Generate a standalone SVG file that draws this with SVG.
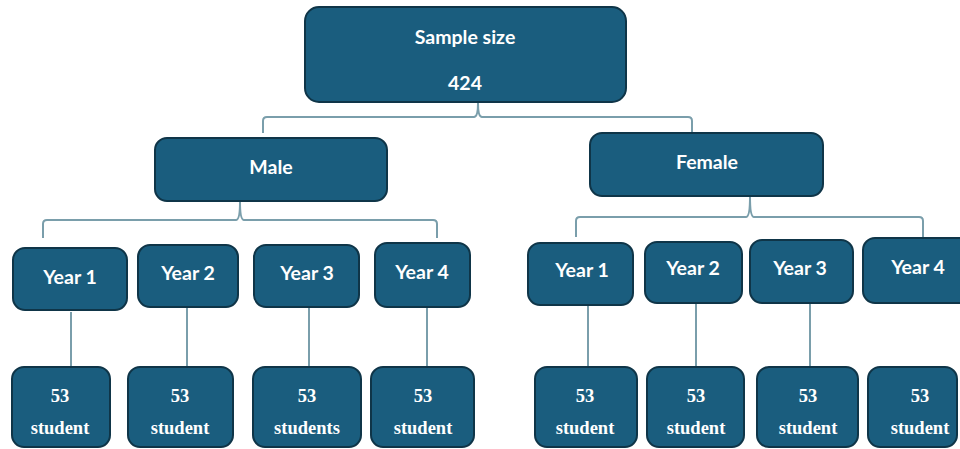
<svg xmlns="http://www.w3.org/2000/svg" width="960" height="449" viewBox="0 0 960 449">
<style>
.box{fill:#1a5d7e;stroke:#0f3548;stroke-width:2}
.t{font-family:Lato,"Open Sans","Liberation Sans",sans-serif;font-weight:bold;font-size:19.5px;fill:#fff;text-anchor:middle}
.s{font-family:"Liberation Serif","Times New Roman",serif;font-weight:bold;font-size:18.5px;fill:#fff;text-anchor:middle}
.c{fill:none;stroke:#7a9eab;stroke-width:2}
</style>
<rect width="960" height="449" fill="#fff"/>
<g id="connectors">
<path class="c" d="M263,133 V121 Q263,117 267,117 H474 Q478,117 478,103 Q478,117 482,117 H688 Q692,117 692,121 V133"/>
<path class="c" d="M43,238 V224 Q43,220 47,220 H236 Q240,220 240,202 Q240,220 244,220 H433 Q437,220 437,224 V238"/>
<path class="c" d="M576,237 V221 Q576,217 580,217 H746 Q750,217 750,197 Q750,217 754,217 H919 Q923,217 923,221 V237"/>
<path class="c" d="M71,312 V366 M187,308 V366 M309,308 V366 M427,308 V366 M588,306 V366 M696,304 V366 M810,304 V366"/>
</g>
<g id="root"><rect class="box" x="305" y="7" width="321" height="95" rx="14"/><text class="t" x="465" y="44">Sample size</text><text class="t" x="465" y="90">424</text></g>
<g id="male"><rect class="box" x="155" y="138" width="232" height="63" rx="12"/><text class="t" x="271" y="174">Male</text></g>
<g id="female"><rect class="box" x="590" y="133" width="233" height="63" rx="12"/><text class="t" x="707" y="169">Female</text></g>
<g id="m-y1"><rect class="box" x="13" y="248" width="114" height="62" rx="12"/><text class="t" x="70" y="284">Year 1</text></g>
<g id="m-y2"><rect class="box" x="138" y="245" width="100" height="62" rx="12"/><text class="t" x="188" y="280">Year 2</text></g>
<g id="m-y3"><rect class="box" x="254" y="245" width="105" height="62" rx="12"/><text class="t" x="307" y="280">Year 3</text></g>
<g id="m-y4"><rect class="box" x="375" y="243" width="95" height="64" rx="12"/><text class="t" x="422" y="279">Year 4</text></g>
<g id="f-y1"><rect class="box" x="528" y="243" width="105" height="62" rx="12"/><text class="t" x="582" y="277">Year 1</text></g>
<g id="f-y2"><rect class="box" x="645" y="242" width="97" height="61" rx="12"/><text class="t" x="693" y="275">Year 2</text></g>
<g id="f-y3"><rect class="box" x="750" y="240" width="103" height="63" rx="12"/><text class="t" x="800" y="275">Year 3</text></g>
<g id="f-y4"><rect class="box" x="863" y="238" width="110" height="65" rx="12"/><text class="t" x="918" y="274">Year 4</text></g>
<g id="m-s1"><rect class="box" x="12" y="367" width="98" height="80" rx="12"/><text class="s" x="60" y="402">53</text><text class="s" x="60" y="434">student</text></g>
<g id="m-s2"><rect class="box" x="128" y="367" width="105" height="80" rx="12"/><text class="s" x="180" y="402">53</text><text class="s" x="180" y="434">student</text></g>
<g id="m-s3"><rect class="box" x="253" y="367" width="108" height="80" rx="12"/><text class="s" x="307" y="402">53</text><text class="s" x="307" y="434">students</text></g>
<g id="m-s4"><rect class="box" x="371" y="367" width="103" height="80" rx="12"/><text class="s" x="423" y="402">53</text><text class="s" x="423" y="434">student</text></g>
<g id="f-s1"><rect class="box" x="535" y="367" width="102" height="80" rx="12"/><text class="s" x="585" y="402">53</text><text class="s" x="585" y="434">student</text></g>
<g id="f-s2"><rect class="box" x="647" y="367" width="97" height="80" rx="12"/><text class="s" x="696" y="402">53</text><text class="s" x="696" y="434">student</text></g>
<g id="f-s3"><rect class="box" x="757" y="367" width="101" height="80" rx="12"/><text class="s" x="808" y="402">53</text><text class="s" x="808" y="434">student</text></g>
<g id="f-s4"><rect class="box" x="868" y="367" width="89" height="80" rx="12"/><text class="s" x="920" y="402">53</text><text class="s" x="920" y="434">student</text></g>
</svg>
